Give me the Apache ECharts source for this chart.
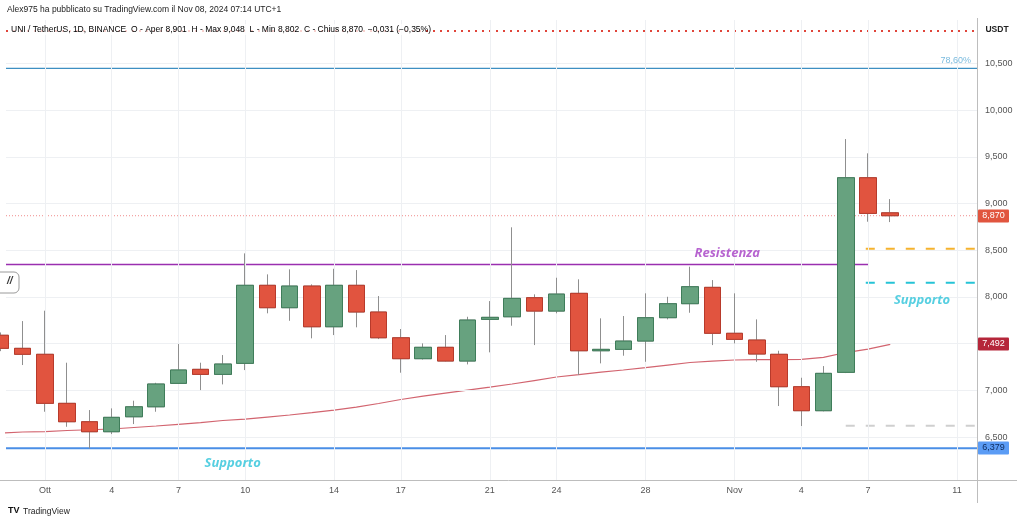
<!DOCTYPE html>
<html><head><meta charset="utf-8">
<script src="https://cdn.jsdelivr.net/npm/echarts@6/dist/echarts.min.js"></script>
<style>html,body{margin:0;padding:0;background:#fff}#c{width:1024px;height:522px}</style>
</head><body><div id="c"></div>
<script>
// day index: 0 = 1 Oct 2024
const days   = [-2,-1,0,1,2,3,4,5,6,7,8,9,10,11,12,13,14,15,16,17,18,19,20,21,22,23,24,25,26,27,28,29,30,31,32,33,34,35,36,37,38];
const opens  = [7590,7450,7386,6861,6664,6557,6717,6824,7075,7225,7171,7289,8125,7885,8117,7681,8125,7839,7563,7339,7461,7314,7760,7788,7992,7849,8039,7424,7439,7528,7778,7928,8103,7611,7539,7386,7039,6782,7193,9277,8901];
const closes = [7450,7386,6861,6664,6557,6711,6824,7068,7218,7171,7282,8125,7885,8117,7681,8125,7839,7563,7339,7461,7314,7753,7782,7985,7849,8031,7424,7439,7528,7778,7928,8110,7611,7546,7389,7039,6782,7182,9277,8895,8870];
const lows   = [7420,7271,6771,6610,6379,6532,6639,6771,7068,7003,7064,7217,7825,7745,7557,7592,7675,7549,7189,7330,7310,7278,7407,7692,7485,7825,7164,7289,7371,7306,7760,7831,7485,7503,7306,6832,6618,6775,7185,8806,8802];
const highs  = [7620,7742,7853,7296,6789,6807,6889,7081,7496,7296,7378,8467,8242,8296,8135,8302,8288,8010,7657,7503,7592,7788,7956,8746,8028,8206,8189,7771,7796,8039,8002,8324,8181,8039,7760,7424,7135,7260,9691,9538,9048];
const ma     = [6543,6554,6559,6570,6578,6586,6602,6618,6636,6655,6677,6691,6714,6736,6762,6789,6821,6859,6902,6939,6971,7003,7035,7068,7105,7143,7169,7196,7218,7244,7271,7298,7314,7325,7328,7330,7332,7353,7405,7442,7492];

const tickDays   = [0,3,6,9,13,16,20,23,27,31,34,37,41];
const tickLabels = ['Ott','4','7','10','14','17','21','24','28','Nov','4','7','11'];
const priceLabels = [6500,7000,8000,8500,9000,9500,10000,10500];
const priceGrid   = [6500,7000,7500,8000,8500,9000,9500,10000,10500];

const topDotted = 10848, fibLevel = 10448, lastPrice = 8870, resistance = 8349;
const orangeLevel = 8516, cyanLevel = 8152, grayLevel = 6621, supportLevel = 6379, maLast = 7492;
const resistanceEnd = 37, zoneStart = 36.9, grayStart = 36;
const notes = [
  {text:'Resistenza', day:30.67, price:8470, color:'#a53dc4'},
  {text:'Supporto', day:39.43, price:7967, color:'#2cc3da'},
  {text:'Supporto', day:8.44, price:6222, color:'#2cc3da'}
];

const X_MIN = -1.75, X_MAX = 41.9, Y_MIN = 6040, Y_MAX = 10966;
const FONT = '"Liberation Sans", Arial, sans-serif';

const chart = echarts.init(document.getElementById('c'), null, {renderer:'canvas'});

function hline(v, x0, x1, style, z) {
  return {type:'line', data:[[x0, v],[x1, v]], symbol:'none', silent:true, z: z||3,
    lineStyle: style, animation:false, clip:true};
}

const candleFull = days.map((d,i)=>[d, opens[i], closes[i], lows[i], highs[i]]);
const candleBody = days.map((d,i)=>[d, opens[i], closes[i], Math.min(opens[i],closes[i]), Math.max(opens[i],closes[i])]);

const option = {
  animation:false,
  backgroundColor:'#fff',
  textStyle:{fontFamily:FONT},
  grid:{left:6, right:47, top:20, bottom:42, containLabel:false},
  xAxis:{type:'value', min:X_MIN, max:X_MAX,
    axisLine:{show:false}, axisTick:{show:false}, splitLine:{show:false},
    axisLabel:{customValues:tickDays, color:'#555', fontSize:9, margin:6, fontFamily:FONT,
      formatter:(v)=>{const k=tickDays.indexOf(Math.round(v)); return k>=0?tickLabels[k]:'';}}},
  yAxis:{type:'value', position:'right', min:Y_MIN, max:Y_MAX, scale:true,
    axisLine:{show:false}, axisTick:{show:false}, splitLine:{show:false},
    axisLabel:{customValues:priceLabels, color:'#555', fontSize:9, margin:8, fontFamily:FONT,
      formatter:(v)=>Math.round(v).toLocaleString('en-US')}},
  series:[
    {type:'line', data:[], z:0, silent:true,
      markLine:{silent:true, symbol:'none', label:{show:false}, animation:false,
        lineStyle:{color:'#eef0f3', width:1, type:'solid'},
        data: tickDays.map(d=>({xAxis:d})).concat(priceGrid.map(p=>({yAxis:p})))}},
    hline(topDotted, X_MIN, X_MAX, {color:'#e0453a', width:2, type:[2,5]}),
    hline(fibLevel, X_MIN, X_MAX, {color:'#3d8fc2', width:1.2}),
    hline(lastPrice, X_MIN, X_MAX, {color:'#f08c8c', width:1, type:[1,2]}),
    hline(resistance, X_MIN, resistanceEnd, {color:'#9a2fb0', width:1.5}),
    hline(orangeLevel, zoneStart, X_MAX, {color:'#f5b22e', width:2, type:[9,11]}),
    hline(cyanLevel, zoneStart, X_MAX, {color:'#25c3d6', width:2, type:[9,11]}),
    hline(grayLevel, grayStart, X_MAX, {color:'#cfcfcf', width:2, type:[9,11]}),
    hline(supportLevel, X_MIN, X_MAX, {color:'#4a8ee6', width:2}),
    {type:'line', data: days.map((d,i)=>[d, ma[i]]), symbol:'none', silent:true, z:4,
      lineStyle:{color:'#d2646f', width:1.2}, clip:true},
    {type:'candlestick', data:candleFull, barWidth:17, z:5, silent:true, clip:true,
      itemStyle:{color:'#67a27f', color0:'#e1543f', borderColor:'#8f8f8f', borderColor0:'#8f8f8f', borderColorDoji:'#8f8f8f', borderWidth:1}},
    {type:'candlestick', data:candleBody, barWidth:17, z:6, silent:true, clip:true,
      itemStyle:{color:'#67a27f', color0:'#e1543f', borderColor:'#3f7d5a', borderColor0:'#b83a2b', borderColorDoji:'#3f7d5a', borderWidth:1}},
    {type:'scatter', symbolSize:0, silent:true, z:7,
      data: notes.map(n=>({value:[n.day, n.price], label:{show:true, position:'inside', formatter:n.text,
        color:n.color, fontSize:13, fontWeight:'bold', fontStyle:'italic', fontFamily:'"Open Sans", Roboto, sans-serif'}}))},
    {type:'scatter', symbolSize:0, silent:true, z:7,
      data:[{value:[41.63, fibLevel+80], label:{show:true, position:'inside', formatter:'78,60%', align:'right',
        color:'#5aaad6', fontSize:9, fontFamily:FONT}}]}
  ]
};
chart.setOption(option);

function py(v){ return chart.convertToPixel({yAxisIndex:0}, v); }
function priceBox(v, fill, txtColor){
  const y = py(v);
  return [
    {type:'rect', shape:{x:978, y:Math.round(y)-6.5, width:31, height:13, r:1}, style:{fill:fill}, z:100},
    {type:'text', x:993.5, y:Math.round(y), style:{text:v.toLocaleString('en-US'), fill:txtColor, font:'9px '+FONT, align:'center', verticalAlign:'middle'}, z:101}
  ];
}
const legendRich = {
  g:{color:'#666', fontSize:8.5, fontFamily:FONT},
  r:{color:'#d9534f', fontSize:8.5, fontFamily:FONT}
};
chart.setOption({graphic:[
  {type:'text', x:7, y:5, style:{text:'Alex975 ha pubblicato su TradingView.com il Nov 08, 2024 07:14 UTC+1', fill:'#222', font:'8.5px '+FONT}, z:100},
  {type:'rect', shape:{x:10, y:24, width:412, height:11}, style:{fill:'rgba(255,255,255,0.75)'}, z:99},
  {type:'text', x:11, y:25, style:{text:'{g|UNI / TetherUS, 1D, BINANCE  O - Aper }{r|8,901}{g|  H - Max }{r|9,048}{g|  L - Min }{r|8,802}{g|  C - Chius }{r|8,870}{r|  −0,031 (−0,35%)}', rich:legendRich}, z:100},
  {type:'text', x:997, y:25, style:{text:'USDT', fill:'#222', font:'bold 8.5px '+FONT, align:'center'}, z:100},
  {type:'line', shape:{x1:0, y1:480.5, x2:1017, y2:480.5}, style:{stroke:'#bdbdbd', lineWidth:1}, z:100},
  {type:'line', shape:{x1:977.5, y1:18, x2:977.5, y2:503}, style:{stroke:'#bdbdbd', lineWidth:1}, z:100},
  {type:'rect', shape:{x:-6, y:272, width:25, height:21, r:5}, style:{fill:'#fff', stroke:'#9a9a9a', lineWidth:1}, z:100},
  {type:'text', x:7, y:276, style:{text:'//', fill:'#333', font:'italic bold 10px '+FONT}, z:101},
  {type:'text', x:8, y:506, style:{text:'TV', fill:'#111', font:'bold 9px '+FONT}, z:100},
  {type:'text', x:23, y:507, style:{text:'TradingView', fill:'#222', font:'8.5px '+FONT}, z:100}
].concat(priceBox(lastPrice,'#e1553f','#fff'), priceBox(maLast,'#b5263a','#fff'), priceBox(supportLevel,'#5b9cf5','#0d2a5c'))});
</script></body></html>
